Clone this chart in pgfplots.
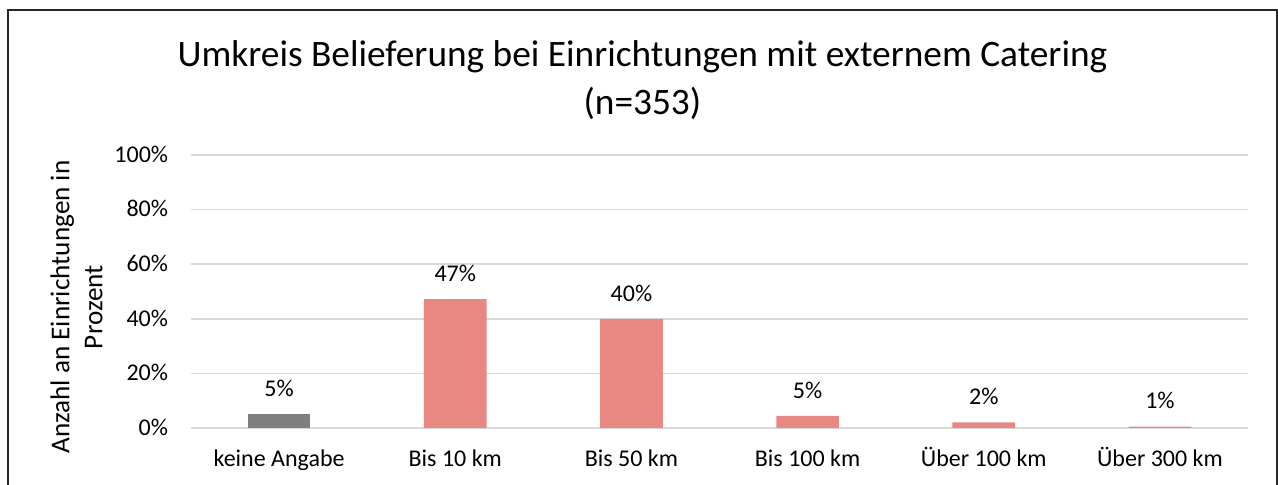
\documentclass[border=0pt]{standalone}
\usepackage{pgfplots}
\pgfplotsset{compat=1.18}
\usepackage{fontspec}
\setmainfont{Carlito}
\definecolor{barpink}{RGB}{232,136,131}
\definecolor{bargray}{RGB}{127,127,127}
\definecolor{gridgray}{RGB}{217,217,217}

% values in percent, label = rounded value as printed in the chart
\pgfplotstableread{
x y lab
0 5.2 5\%
}\keineangabe
\pgfplotstableread{
x y lab
1 47.2 47\%
2 40.0 40\%
3 4.4 5\%
4 2.1 2\%
5 0.5 1\%
}\umkreis

\begin{document}
\begin{tikzpicture}[x=0.75pt,y=0.75pt]
% canvas of the reference: 1278 x 485 px, axis corner at px (191,428)
\useasboundingbox (-191,-57) rectangle (1087,428);
\draw[line width=1.1pt, black!85] (-183,-70) -- (-183,418) -- (1086,418) -- (1086,-70);
\begin{axis}[
    at={(0,0)}, anchor=south west,
    scale only axis,
    width=792.75pt, height=204.75pt,
    xmin=-0.5, xmax=5.5,
    ymin=0, ymax=100,
    ybar, bar width=47pt, bar shift=0pt,
    axis line style={draw=none},
    major tick length=0pt,
    ymajorgrids,
    grid style={gridgray, line width=1.1pt},
    ytick={0,20,...,100},
    yticklabel={\pgfmathprintnumber{\tick}\%},
    yticklabel style={anchor=base east, inner sep=0pt, xshift=-17pt, yshift=-5.5pt},
    xtick={0,...,5},
    xticklabels={keine Angabe, Bis 10 km, Bis 50 km, Bis 100 km, Über 100 km, Über 300 km},
    xticklabel style={anchor=base, inner sep=0pt, yshift=-29pt},
    tick label style={font=\fontsize{18}{21}\selectfont, text=black},
    /pgf/number format/assume math mode=true,
    ylabel={Anzahl an Einrichtungen in\\Prozent},
    ylabel style={at={(axis description cs:-0.1083,0.443)}, anchor=center, rotate=0,
        align=center, font=\fontsize{20.4}{24.75}\selectfont},
    title={Umkreis Belieferung bei Einrichtungen mit externem Catering\\(n=353)},
    title style={at={(axis description cs:0.4271,1.2436)}, anchor=center,
        align=center, font=\fontsize{28}{36}\selectfont},
    nodes near coords,
    point meta=explicit symbolic,
    nodes near coords style={font=\fontsize{18}{21}\selectfont, anchor=base, inner sep=0pt, yshift=13.3pt},
]
\addplot[fill=bargray, draw=none] table[x=x, y=y, meta=lab] {\keineangabe};
\addplot[fill=barpink, draw=none] table[x=x, y=y, meta=lab] {\umkreis};
\end{axis}
\end{tikzpicture}
\end{document}
